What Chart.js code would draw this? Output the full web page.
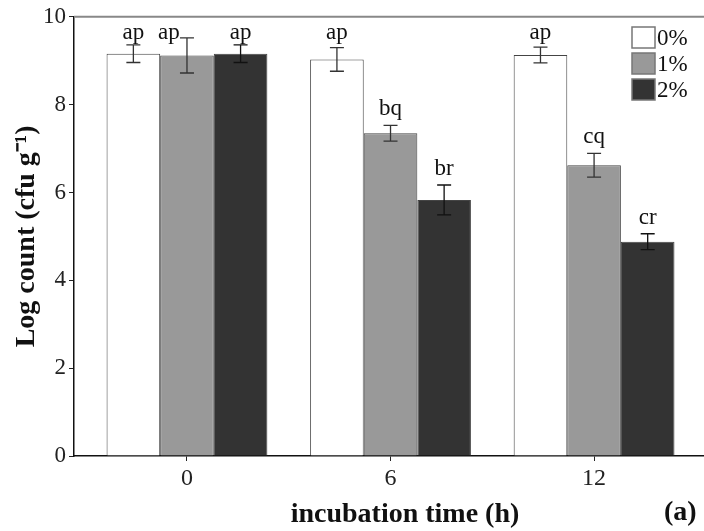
<!DOCTYPE html>
<html lang="en">
<head>
  <meta charset="UTF-8" />
  <title>Log count vs incubation time</title>
  <style>
    html, body { margin: 0; padding: 0; background: #fff; }
    #wrap { width: 704px; height: 531px; position: relative; }
  </style>
</head>
<body>
  <div id="wrap"><canvas id="myChart" width="704" height="531"></canvas></div>
  <script src="https://cdn.jsdelivr.net/npm/chart.js@4.4.1/dist/chart.umd.min.js"></script>
  <script>
    // data
    const times = ["0", "6", "12"];
    const seriesNames = ["0%", "1%", "2%"];
    const mean0 = [9.16, 9.03, 9.13];
    const mean1 = [9.12, 7.35, 6.62];
    const mean2 = [9.16, 5.83, 4.88];
    const err0 = [0.2, 0.27, 0.18];
    const err1 = [0.4, 0.18, 0.27];
    const err2 = [0.2, 0.34, 0.18];
    const letters0 = ["ap", "ap", "ap"];
    const letters1 = ["ap", "bq", "cq"];
    const letters2 = ["ap", "br", "cr"];
    const yTicks = [0, 2, 4, 6, 8, 10];

    const fills = ["#ffffff", "#999999", "#333333"];
    const serif = "'Liberation Serif', 'Times New Roman', serif";

    const means = [mean0, mean1, mean2];
    const errs = [err0, err1, err2];
    const letters = [letters0, letters1, letters2];

    // error bars + letters + legend + frame line + x title
    const extras = {
      id: "extras",
      afterDatasetsDraw(chart) {
        const ctx = chart.ctx;
        const y = chart.scales.y;
        const area = chart.chartArea;
        ctx.save();
        // top frame line
        ctx.strokeStyle = "#888";
        ctx.lineWidth = 2;
        ctx.beginPath();
        ctx.moveTo(area.left, area.top);
        ctx.lineTo(area.right, area.top);
        ctx.stroke();

        chart.data.datasets.forEach((ds, d) => {
          const meta = chart.getDatasetMeta(d);
          meta.data.forEach((bar, i) => {
            const v = means[d][i];
            const e = errs[d][i];
            const yTop = y.getPixelForValue(v + e);
            const yBot = y.getPixelForValue(v - e);
            ctx.strokeStyle = d === 2 ? "#111" : "#333";
            ctx.lineWidth = 1.3;
            ctx.beginPath();
            ctx.moveTo(bar.x, yTop); ctx.lineTo(bar.x, yBot);
            ctx.moveTo(bar.x - 7, yTop); ctx.lineTo(bar.x + 7, yTop);
            ctx.moveTo(bar.x - 7, yBot); ctx.lineTo(bar.x + 7, yBot);
            ctx.stroke();

            // significance letters
            let ty = yTop - 10;
            let tx = bar.x;
            if (ty < area.top + 22) {
              if (yTop < area.top + 25) tx = bar.x - 18;
              ty = area.top + 22;
            }
            ctx.fillStyle = "#111";
            ctx.font = "23px " + serif;
            ctx.textAlign = "center";
            ctx.textBaseline = "alphabetic";
            ctx.fillText(letters[d][i], tx, ty);
          });
        });

        // legend
        chart.data.datasets.forEach((ds, d) => {
          const bx = 632, by = 27 + d * 26;
          ctx.fillStyle = ds.backgroundColor;
          ctx.fillRect(bx, by, 23, 21);
          ctx.strokeStyle = "#777";
          ctx.lineWidth = 1.5;
          ctx.strokeRect(bx, by, 23, 21);
          ctx.fillStyle = "#111";
          ctx.font = "23px " + serif;
          ctx.textAlign = "left";
          ctx.textBaseline = "middle";
          ctx.fillText(ds.label, bx + 25, by + 12);
        });

        // x axis title and panel tag
        ctx.fillStyle = "#111";
        ctx.textBaseline = "alphabetic";
        ctx.font = "bold 28px " + serif;
        ctx.textAlign = "center";
        ctx.fillText("incubation time (h)", 405, 522);
        ctx.textAlign = "left";
        ctx.fillText("(a)", 664, 520);
        ctx.restore();
      }
    };

    const datasets = seriesNames.map((name, d) => ({
      label: name,
      data: means[d].map((v, i) => ({ x: i, y: v })),
      backgroundColor: fills[d],
      borderColor: "#444",
      borderWidth: 1,
      borderSkipped: "bottom",
      categoryPercentage: 0.79,
      barPercentage: 1.0
    }));

    new Chart(document.getElementById("myChart"), {
      type: "bar",
      data: { datasets: datasets },
      plugins: [extras],
      options: {
        responsive: false,
        animation: false,
        layout: { padding: { top: 15, right: 0, left: 0, bottom: 0 } },
        plugins: { legend: { display: false }, tooltip: { enabled: false } },
        scales: {
          x: {
            type: "linear",
            offset: false,
            min: -0.555,
            max: 2.54,
            afterBuildTicks(scale) { scale.ticks = times.map((t, i) => ({ value: i })); },
            grid: { drawOnChartArea: false, drawTicks: true, tickLength: 5, color: "#222", offset: false },
            border: { display: true, color: "#111", width: 1.5 },
            ticks: {
              color: "#222", font: { family: serif, size: 24 }, padding: 3, maxRotation: 0,
              callback: (v) => times[v]
            },
            afterFit(scale) { scale.height = 75; }
          },
          y: {
            min: 0, max: 10,
            afterBuildTicks(scale) { scale.ticks = yTicks.map(v => ({ value: v })); },
            grid: { drawOnChartArea: false, drawTicks: true, tickLength: 5, color: "#222" },
            border: { display: true, color: "#111", width: 1.5 },
            ticks: { color: "#222", font: { family: serif, size: 23 }, padding: 3 },
            title: {
              display: true, text: "Log count (cfu g\u207B\u00B9)", color: "#111",
              font: { family: serif, size: 28, weight: "bold" },
              padding: { top: 10, bottom: 10 }
            },
            afterFit(scale) { scale.width = 74; }
          }
        }
      }
    });
  </script>
</body>
</html>
